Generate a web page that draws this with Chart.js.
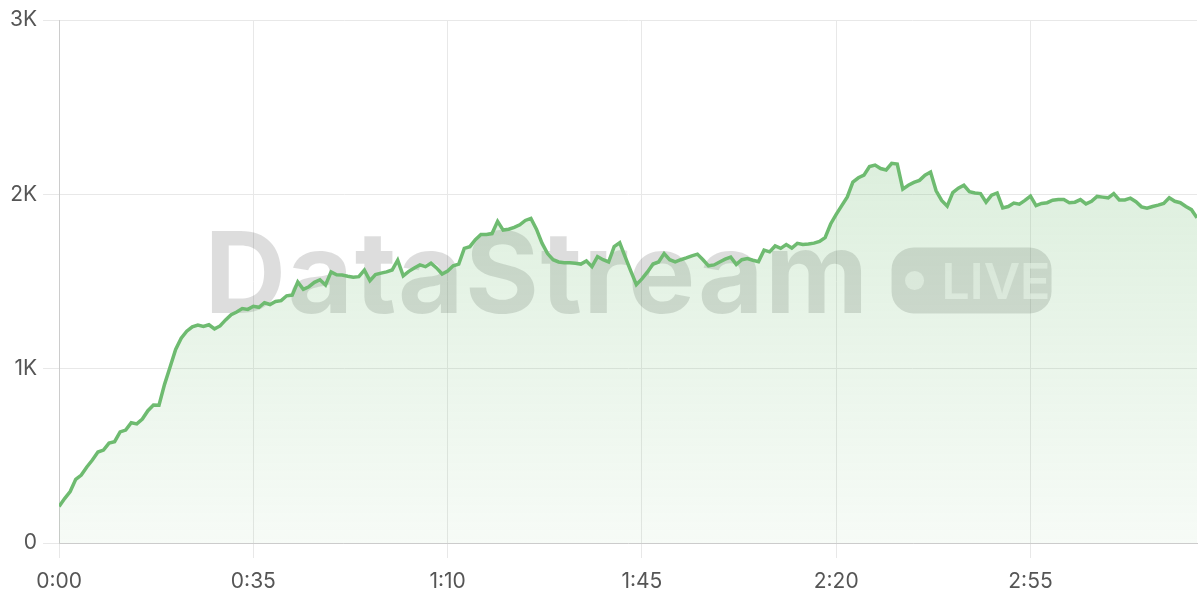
<!DOCTYPE html>
<html>
<head>
<meta charset="utf-8">
<script src="https://cdn.jsdelivr.net/npm/chart.js@4"></script>
<style>
  html, body { margin: 0; padding: 0; background: #fff; }
  #wrap { width: 1200px; height: 600px; }
</style>
</head>
<body>
<div id="wrap"><canvas id="streamChart"></canvas></div>
<script>
// one reading per second, 0:00 .. 3:25
const viewers = [
  210, 255, 295, 365, 390, 436, 476, 522, 533, 573,
  581, 637, 648, 690, 683, 711, 759, 792, 790, 910,
  1010, 1110, 1175, 1215, 1240, 1250, 1242, 1252, 1228, 1245,
  1280, 1310, 1325, 1345, 1340, 1358, 1352, 1378, 1368, 1385,
  1390, 1418, 1422, 1497, 1455, 1470, 1495, 1510, 1480, 1555,
  1538, 1537, 1530, 1525, 1528, 1565, 1505, 1540, 1548, 1555,
  1566, 1622, 1532, 1558, 1578, 1595, 1585, 1605, 1578, 1543,
  1560, 1590, 1600, 1690, 1700, 1740, 1770, 1770, 1775, 1845,
  1795, 1800, 1810, 1825, 1850, 1862, 1800, 1720, 1660, 1625,
  1612, 1608, 1608, 1605, 1600, 1618, 1585, 1643, 1625, 1612,
  1700, 1722, 1640, 1560, 1482, 1515, 1555, 1600, 1612, 1660,
  1625, 1612, 1625, 1635, 1647, 1657, 1625, 1590, 1595, 1612,
  1628, 1640, 1598, 1625, 1632, 1622, 1614, 1680, 1670, 1704,
  1690, 1712, 1692, 1719, 1712, 1715, 1720, 1730, 1752, 1830,
  1885, 1935, 1985, 2070, 2095, 2110, 2160, 2168, 2148, 2140,
  2178, 2174, 2030, 2052, 2068, 2080, 2110, 2128, 2020, 1965,
  1932, 2010, 2035, 2052, 2015, 2008, 2004, 1955, 1995, 2008,
  1922, 1930, 1950, 1944, 1965, 1990, 1935, 1948, 1952, 1966,
  1970, 1970, 1952, 1955, 1970, 1945, 1960, 1988, 1984, 1980,
  2004, 1968, 1968, 1978, 1958, 1928, 1920, 1930, 1938, 1948,
  1980, 1960, 1952, 1930, 1912, 1865
];
const xStep = 35;      // seconds between x ticks
const yTicks = [0, 1000, 2000, 3000];
const brand = 'DataStream';
const badge = 'LIVE';

const green = 'rgb(110, 187, 112)';
const tickFont = { family: 'Inter, "Liberation Sans", sans-serif', size: 21, lineHeight: 1 };

function fmtTime(sec) {
  const m = Math.floor(sec / 60);
  const s = sec % 60;
  return m + ':' + String(s).padStart(2, '0');
}

// watermark drawn under the line and fill
const watermark = {
  id: 'watermark',
  beforeDatasetsDraw(chart) {
    const { ctx, chartArea } = chart;
    const cx = (chartArea.left + chartArea.right) / 2;
    const cy = (chartArea.top + chartArea.bottom) / 2;
    ctx.save();
    ctx.font = 'bold 113px Inter, "Liberation Sans", sans-serif';
    const raw = ctx.measureText(brand).width;
    ctx.letterSpacing = ((665 - raw) / brand.length) + 'px';
    const tw = ctx.measureText(brand).width;
    const pillW = 160, pillH = 66, gap = 22;
    const x0 = cx - (tw + gap + pillW) / 2;
    const pillTop = cy - 1 - pillH / 2;
    const base = pillTop + pillH - 1;

    ctx.fillStyle = 'rgba(0, 0, 0, 0.135)';
    ctx.textBaseline = 'alphabetic';
    ctx.fillText(brand, x0, base);

    const px = x0 + tw + gap;
    ctx.beginPath();
    ctx.roundRect(px, pillTop, pillW, pillH, 22);
    ctx.fill();

    ctx.letterSpacing = '0px';
    ctx.fillStyle = 'rgba(255, 255, 255, 0.6)';
    ctx.beginPath();
    ctx.arc(px + 23, pillTop + pillH / 2, 9.5, 0, Math.PI * 2);
    ctx.fill();
    ctx.font = '600 50px Inter, "Liberation Sans", sans-serif';
    ctx.fillText(badge, px + 50, pillTop + 51);
    ctx.restore();
  }
};

const ctx = document.getElementById('streamChart').getContext('2d');
new Chart(ctx, {
  type: 'line',
  data: {
    datasets: [{
      data: viewers.map((v, i) => ({ x: i, y: v })),
      borderColor: green,
      borderWidth: 3.5,
      pointRadius: 0,
      tension: 0,
      fill: 'origin',
      backgroundColor: context => {
        const area = context.chart.chartArea;
        if (!area) return 'rgba(110, 187, 112, 0.15)';
        const g = context.chart.ctx.createLinearGradient(0, area.top, 0, area.bottom);
        g.addColorStop(0, 'rgba(110, 187, 112, 0.3)');
        g.addColorStop(1, 'rgba(110, 187, 112, 0.06)');
        return g;
      }
    }]
  },
  options: {
    responsive: true,
    maintainAspectRatio: false,
    animation: false,
    layout: { padding: { top: 20, right: 3, left: 4, bottom: 0 } },
    plugins: {
      legend: { display: false },
      tooltip: { enabled: false }
    },
    scales: {
      x: {
        type: 'linear',
        min: 0,
        max: viewers.length - 1,
        afterFit: scale => { scale.height = 57; },
        grid: { color: '#e8e8e8', lineWidth: 1, tickLength: 15 },
        border: { color: '#cccccc' },
        ticks: {
          stepSize: xStep,
          includeBounds: false,
          maxRotation: 0,
          padding: 13,
          color: '#555',
          font: tickFont,
          callback: v => fmtTime(v)
        }
      },
      y: {
        min: yTicks[0],
        max: yTicks[yTicks.length - 1],
        grid: { color: '#e8e8e8', lineWidth: 1, tickLength: 16 },
        border: { color: '#cccccc' },
        ticks: {
          stepSize: 1000,
          padding: 6,
          color: '#555',
          font: tickFont,
          callback: v => v === 0 ? '0' : (v / 1000) + 'K'
        }
      }
    }
  },
  plugins: [watermark]
});
</script>
</body>
</html>
